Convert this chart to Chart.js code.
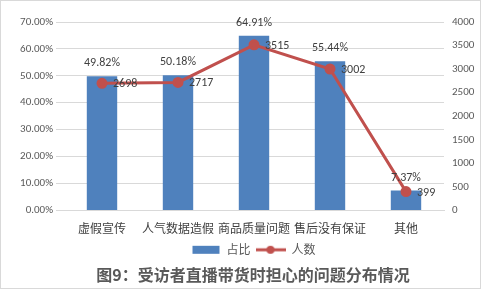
<!DOCTYPE html>
<html>
<head>
<meta charset="utf-8">
<script src="https://cdn.jsdelivr.net/npm/chart.js@4"></script>
<style>
  html, body { margin: 0; padding: 0; background: #fff; }
  #wrap { position: relative; width: 479px; height: 287px; border: 1px solid #d9d9d9; }
</style>
</head>
<body>
<div id="wrap"><canvas id="chart" width="479" height="287"></canvas></div>
<script>
'use strict'

var categories = ['虚假宣传', '人气数据造假', '商品质量问题', '售后没有保证', '其他'];
var shareValues = [49.82, 50.18, 64.91, 55.44, 7.37];
var countValues = [2698, 2717, 3515, 3002, 399];

var barColor = '#4F81BD';
var lineColor = '#C0504D';
var cjk = '"Noto Sans CJK SC", "Liberation Sans", sans-serif';
var num = 'Carlito, Calibri, "Liberation Sans", "Noto Sans CJK SC", sans-serif';

// small legend icons
function makeIcon(kind) {
	var c = document.createElement('canvas');
	c.width = 30; c.height = 10;
	var g = c.getContext('2d');
	if (kind == 'bar') {
		g.fillStyle = barColor;
		g.fillRect(2, 1, 27, 8);
	} else {
		g.strokeStyle = lineColor;
		g.lineWidth = 3;
		g.beginPath(); g.moveTo(0, 5); g.lineTo(30, 5); g.stroke();
		g.fillStyle = lineColor;
		g.beginPath(); g.arc(15, 5, 4, 0, Math.PI * 2); g.fill();
	}
	return c;
}

// draws the value labels next to bars and points
var valueLabels = {
	id: 'valueLabels',
	afterDatasetsDraw: function(chart) {
		var ctx = chart.ctx;
		ctx.save();
		ctx.fillStyle = '#404040';
		ctx.textBaseline = 'middle';

		var bars = chart.getDatasetMeta(0).data;
		ctx.font = '12px ' + num;
		ctx.textAlign = 'center';
		bars.forEach(function(b, i) {
			ctx.fillText(shareValues[i].toFixed(2) + '%', b.x, b.y - 13);
		});

		var pts = chart.getDatasetMeta(1).data;
		ctx.textAlign = 'left';
		pts.forEach(function(p, i) {
			ctx.fillText(String(countValues[i]), p.x + 11, p.y + 1);
		});
		ctx.restore();
	}
};

// legend and title sit centred under the plot, not the canvas
var shiftBottom = {
	id: 'shiftBottom',
	afterLayout: function(chart) {
		var dx = (chart.chartArea.left + chart.chartArea.right) / 2 - chart.width / 2;
		[chart.legend, chart.titleBlock].forEach(function(b) {
			if (b) { b.left += dx; b.right += dx; }
		});
	}
};

window.onload = function() {
	var ctx = document.getElementById('chart').getContext('2d');
	var icons = [makeIcon('bar'), makeIcon('line')];

	var myChart = new Chart(ctx, {
		data: {
			labels: categories,
			datasets: [{
				type: 'bar',
				label: '占比',
				data: shareValues,
				backgroundColor: barColor,
				barPercentage: 0.4,
				categoryPercentage: 1.0,
				yAxisID: 'y',
				order: 2
			}, {
				type: 'line',
				label: '人数',
				data: countValues,
				borderColor: lineColor,
				backgroundColor: lineColor,
				borderWidth: 3,
				pointRadius: 4,
				pointBackgroundColor: lineColor,
				pointBorderColor: lineColor,
				tension: 0,
				yAxisID: 'y1',
				order: 1
			}]
		},
		options: {
			responsive: false,
			animation: false,
			layout: { padding: { top: 21, right: 2, left: 0, bottom: 1 } },
			plugins: {
				legend: {
					position: 'bottom',
					labels: {
						font: { size: 12, family: cjk },
						color: '#595959',
						usePointStyle: true,
						pointStyleWidth: 30,
						padding: 5,
						sort: function(a, b) { return a.datasetIndex - b.datasetIndex; },
						generateLabels: function(chart) {
							var items = Chart.defaults.plugins.legend.labels.generateLabels(chart);
							items.forEach(function(it) {
								it.pointStyle = icons[it.datasetIndex];
								it.lineWidth = 0;
							});
							return items;
						}
					}
				},
				title: {
					display: true,
					position: 'bottom',
					text: '图9：受访者直播带货时担心的问题分布情况',
					color: '#595959',
					font: { size: 16, weight: 'bold', family: cjk },
					padding: { top: 0, bottom: 2 }
				},
				tooltip: { enabled: false }
			},
			scales: {
				x: {
					grid: { display: false },
					border: { color: '#d9d9d9' },
					ticks: { color: '#404040', font: { size: 12, family: cjk }, maxRotation: 0, autoSkip: false, padding: 3 }
				},
				y: {
					position: 'left',
					min: 0, max: 70,
					ticks: {
						stepSize: 10,
						color: '#595959',
						font: { size: 11, family: num },
						callback: function(v) { return v.toFixed(2) + '%'; }
					},
					grid: { color: '#d9d9d9' },
					border: { display: false },
					afterFit: function(s) { s.width = 63; }
				},
				y1: {
					position: 'right',
					min: 0, max: 4000,
					ticks: {
						stepSize: 500,
						color: '#595959',
						font: { size: 11, family: num },
						padding: 8,
						callback: function(v) { return String(v); }
					},
					grid: { display: false, drawTicks: false },
					border: { display: false },
					afterFit: function(s) { s.width = 34; }
				}
			}
		},
		plugins: [valueLabels, shiftBottom]
	});
};
</script>
</body>
</html>
